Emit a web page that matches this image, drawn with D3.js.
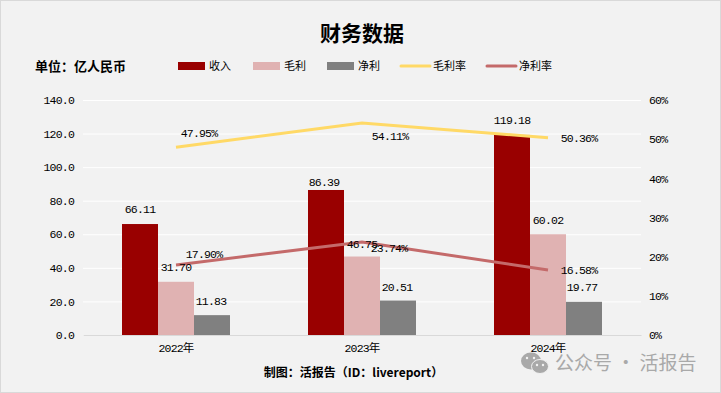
<!DOCTYPE html>
<html><head><meta charset="utf-8">
<script src="https://cdn.jsdelivr.net/npm/d3@7"></script>
<style>
html,body{margin:0;padding:0;background:#f2f2f2}
svg{display:block}
text{font-family:"Liberation Mono","Noto Sans CJK SC",monospace;fill:#000}
.cjk{font-family:"Noto Sans CJK SC",sans-serif}
</style></head><body><svg id="c" width="721" height="393"></svg>
<script>
const years = ["2022年","2023年","2024年"];
const revenue = [66.11,86.39,119.18];
const grossProfit = [31.70,46.75,60.02];
const netProfit = [11.83,20.51,19.77];
const grossMargin = [47.95,54.11,50.36];
const netMargin = [17.90,23.74,16.58];
const leftTicks = [0,20,40,60,80,100,120,140];
const rightTicks = [0,10,20,30,40,50,60];
const barNames = ["收入","毛利","净利"];
const lineNames = ["毛利率","净利率"];

const svg = d3.select("#c");
const M = {l:83,r:641,t:100,b:335};
const x = d3.scaleBand().domain(years).range([M.l,M.r]);
const y = d3.scaleLinear().domain([0,140]).range([M.b,M.t]);
const y2 = d3.scaleLinear().domain([0,60]).range([M.b,M.t]);
const barX = d3.scaleBand().domain(barNames).range([0,108]);
const colors = {"收入":"#990000","毛利":"#e0b2b2","净利":"#808080","毛利率":"#ffd966","净利率":"#c46a6a"};
const numFont = t => t.attr("font-size",11.5).attr("letter-spacing",-0.8);

svg.append("rect").attr("width",721).attr("height",393).attr("fill","#f2f2f2");
svg.append("rect").attr("x",.5).attr("y",.5).attr("width",720).attr("height",392).attr("fill","none").attr("stroke","#d9d9d9");

// grid + axes
const gl = svg.append("g").attr("transform",`translate(${M.l},0)`)
  .call(d3.axisLeft(y).tickValues(leftTicks).tickSize(-(M.r-M.l)).tickFormat(d3.format(".1f")).tickPadding(9));
gl.select(".domain").remove();
gl.selectAll("line").attr("stroke","#ffffff").attr("stroke-width",1);
gl.selectAll("text").call(numFont);
const gr = svg.append("g").attr("transform",`translate(${M.r},0)`)
  .call(d3.axisRight(y2).tickValues(rightTicks).tickSize(0).tickFormat(d=>d+"%").tickPadding(8));
gr.select(".domain").remove();
gr.selectAll("text").call(numFont);
const gb = svg.append("g").attr("transform",`translate(0,${M.b})`)
  .call(d3.axisBottom(x).tickSize(0).tickPadding(9));
gb.select(".domain").attr("stroke","#d9d9d9").attr("stroke-width",1);
gb.selectAll("text").call(numFont);

// bars
const groups = [revenue,grossProfit,netProfit];
groups.forEach((vals,k)=>{
  const name = barNames[k];
  svg.append("g").selectAll("rect").data(vals).join("rect")
    .attr("x",(d,i)=>x(years[i])+x.bandwidth()/2-54+barX(name))
    .attr("width",barX.bandwidth())
    .attr("y",d=>y(d)).attr("height",d=>M.b-y(d))
    .attr("fill",colors[name]);
});

// lines
const line = d3.line().x((d,i)=>x(years[i])+x.bandwidth()/2).y(d=>y2(d));
[grossMargin,netMargin].forEach((vals,k)=>{
  svg.append("path").attr("d",line(vals)).attr("fill","none")
    .attr("stroke",colors[lineNames[k]]).attr("stroke-width",3);
});

// data labels: hand-placed in the reference, offsets from each mark's anchor
const barOff = [[[0,-15],[-2,-8],[0,-15]],[[0,-15],[0,-13],[0,-14]],[[-1,-14],[-1,-14],[-2,-15]]];
groups.forEach((vals,k)=>{
  vals.forEach((v,i)=>{
    const o = barOff[k][i];
    svg.append("text").attr("x",x(years[i])+x.bandwidth()/2-54+barX(barNames[k])+18+o[0])
      .attr("y",y(v)+o[1]).attr("dy","0.35em").attr("text-anchor","middle").call(numFont)
      .text(v.toFixed(2));
  });
});
const lineOff = [[[23,-14],[28,13],[31,0]],[[28,-11],[27,6],[31,0]]];
[grossMargin,netMargin].forEach((vals,k)=>{
  vals.forEach((v,i)=>{
    const o = lineOff[k][i];
    svg.append("text").attr("x",x(years[i])+x.bandwidth()/2+o[0]).attr("y",y2(v)+o[1])
      .attr("dy","0.35em").attr("text-anchor","middle").call(numFont)
      .text(v.toFixed(2)+"%");
  });
});

// title etc.
svg.append("text").attr("class","cjk").attr("x",362).attr("y",41).attr("text-anchor","middle")
  .attr("font-size",21).attr("font-weight",700).text("财务数据");
svg.append("text").attr("class","cjk").attr("x",35).attr("y",71).attr("font-size",13)
  .attr("font-weight",700).text("单位\uFF1A亿人民币");
svg.append("text").attr("class","cjk").attr("x",353.5).attr("y",377).attr("text-anchor","middle")
  .attr("font-size",12).attr("font-weight",700).text("制图\uFF1A活报告\uFF08ID\uFF1Alivereport\uFF09");

// legend
const legBars = [178,253,327];
barNames.forEach((n,i)=>{
  svg.append("rect").attr("x",legBars[i]).attr("y",62).attr("width",27).attr("height",8).attr("fill",colors[n]);
  svg.append("text").attr("class","cjk").attr("x",legBars[i]+31).attr("y",70).attr("font-size",11).text(n);
});
const legLines = [401,487];
lineNames.forEach((n,i)=>{
  svg.append("line").attr("x1",legLines[i]).attr("x2",legLines[i]+29).attr("y1",66).attr("y2",66)
    .attr("stroke",colors[n]).attr("stroke-width",3).attr("stroke-linecap","round");
  svg.append("text").attr("class","cjk").attr("x",legLines[i]+32).attr("y",70).attr("font-size",11).text(n);
});

// watermark
const wm = svg.append("g").attr("fill","#a9a9a9");
wm.append("ellipse").attr("cx",531).attr("cy",361).attr("rx",10).attr("ry",8.5);
wm.append("ellipse").attr("cx",540).attr("cy",366.5).attr("rx",8.5).attr("ry",7).attr("stroke","#f2f2f2");
[[527,358],[534,358],[537,365],[543,365]].forEach(p=>
  wm.append("circle").attr("cx",p[0]).attr("cy",p[1]).attr("r",1.2).attr("fill","#f2f2f2"));
svg.append("text").attr("class","cjk").attr("x",555).attr("y",370).attr("font-size",19)
  .style("fill","#a9a9a9").text("公众号 · 活报告");
</script></body></html>
